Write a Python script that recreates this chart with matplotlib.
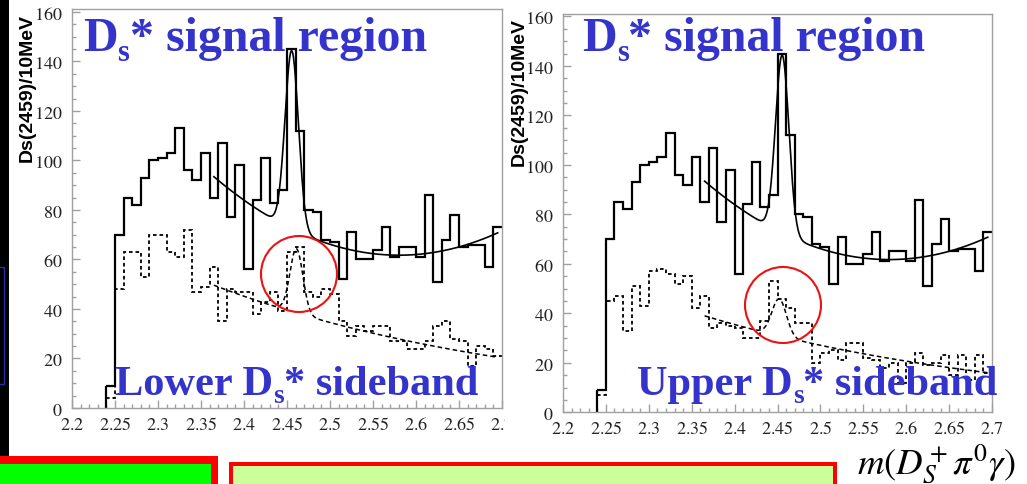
import matplotlib.pyplot as plt
import numpy as np
from matplotlib.patches import Rectangle, Ellipse
from matplotlib.transforms import Affine2D

# axis numbers are set in italic Times-like digits through mathtext
plt.rcParams['mathtext.fontset'] = 'stix'

# binning of the D_s(2459) candidate mass histograms (10 MeV bins)
bin_lo = 2.20
bin_w = 0.01

# entries per bin, 2.20 ... 2.69
signal = [0, 0, 0, 0,
          9, 70, 85, 82, 93, 100, 101, 103, 113, 96,
          92, 103, 85, 107, 77, 98, 56, 84, 101, 83,
          88, 145, 112, 80, 79, 68, 67, 52, 71, 60,
          60, 64, 73, 61, 65, 65, 61, 86, 51, 68,
          78, 65, 66, 66, 57, 73]
lower_sb = [0, 0, 0, 0,
            4, 48, 63, 63, 53, 70, 70, 63, 61, 72,
            47, 49, 57, 35, 48, 47, 47, 38, 43, 47,
            39, 63, 65, 47, 45, 48, 46, 35, 29, 33,
            31, 33, 33, 27, 27, 24, 24, 27, 33, 35,
            28, 27, 17, 25, 24, 21]
upper_sb = [0, 0, 0, 0,
            7, 45, 47, 33, 51, 43, 57, 58, 56, 52,
            55, 42, 47, 34, 36, 35, 34, 30, 30, 37,
            53, 46, 42, 36, 36, 20, 24, 25, 21, 28,
            28, 22, 21, 18, 20, 12, 20, 24, 19, 20,
            23, 15, 23, 13, 23, 16]

# fit results: gaussian + background, fitted over fit_range
fit_range = (2.365, 2.695)
sig_gaus = (72.0, 2.4555, 0.0078)          # amplitude, mean, sigma
sig_bkg = (62.0, 27.2, 685.0, 2.60)        # p0 + p1*(x-x0) + p2*(x-x0)^2
low_gaus = (26.0, 2.461, 0.0075)
low_bkg = (49.6, 2.68)                     # norm at fit start, slope
up_gaus = (15.0, 2.452, 0.0085)
up_bkg = (39.0, 2.70)

xticks = [2.2, 2.25, 2.3, 2.35, 2.4, 2.45, 2.5, 2.55, 2.6, 2.65, 2.7]
xtick_labels = ['2.2', '2.25', '2.3', '2.35', '2.4', '2.45', '2.5',
                '2.55', '2.6', '2.65', '2.7']
yticks = [0, 20, 40, 60, 80, 100, 120, 140, 160]

BLUE = '#3434cc'
W, H = 1027, 485
fig = plt.figure(figsize=(W / 100, H / 100), dpi=100)
pix = Affine2D().scale(1.0 / W, -1.0 / H).translate(0, 1) + fig.transFigure
renderer = fig.canvas.get_renderer()


def gaus(x, amp, mean, sigma):
    return amp * np.exp(-0.5 * ((x - mean) / sigma) ** 2)


def quad_bkg(x, p0, p1, p2, x0):
    return p0 + p1 * (x - x0) + p2 * (x - x0) ** 2


def exp_bkg(x, norm, slope):
    return norm * np.exp(-slope * (x - fit_range[0]))


def it(s):
    return r'$\mathit{' + s + '}$'


def make_axes(x0, x1, y0, y1, ytop, z):
    ax = fig.add_axes([x0 / W, 1 - y1 / H, (x1 - x0) / W, (y1 - y0) / H])
    ax.set_zorder(z)
    ax.set_xlim(2.2, 2.7)
    ax.set_ylim(0, ytop)
    ax.set_xticks(xticks, [it(s) for s in xtick_labels])
    ax.set_yticks(yticks, [it(str(v)) for v in yticks])
    ax.set_xticks(np.arange(2.2, 2.7001, 0.01), minor=True)
    ax.set_yticks(np.arange(0, 161, 5), minor=True)
    ax.tick_params(which='both', direction='in', color='#a0a0a0', width=1)
    ax.tick_params(which='major', length=6, labelcolor='#222222',
                   labelsize=13)
    ax.tick_params(which='minor', length=3)
    ax.tick_params(axis='x', pad=5)
    ax.tick_params(axis='y', pad=7)
    for sp in ax.spines.values():
        sp.set_color('#a0a0a0')
        sp.set_linewidth(1.0)
    return ax


def draw_panel(ax, side, side_gaus, side_bkg):
    edges = np.round(bin_lo + bin_w * np.arange(len(signal) + 1), 3)
    ax.stairs(signal[4:], edges[4:], baseline=None, color='black', lw=1.6)
    ax.vlines(edges[4], 0, signal[4], color='black', lw=1.6)
    ax.stairs(side[4:], edges[4:], baseline=None, color='black', lw=1.3,
              ls=(0, (2.0, 1.6)))
    ax.vlines(edges[4], 0, side[4], color='black', lw=1.3,
              ls=(0, (2.0, 1.6)))
    xf = np.linspace(fit_range[0], fit_range[1], 600)
    ax.plot(xf, gaus(xf, *sig_gaus) + quad_bkg(xf, *sig_bkg),
            color='black', lw=1.2)
    ax.plot(xf, gaus(xf, *side_gaus) + exp_bkg(xf, *side_bkg),
            color='black', lw=1.1, ls=(0, (3.0, 2.0)))


def blue_label(x, y, head, tail, size):
    # head + subscript "s" + tail, laid out piece by piece
    sub = size * 0.64
    drop = size * 100 / 72 * 0.2
    for s, fs, dy in [(head, size, 0), ('s', sub, drop), (tail, size, 0)]:
        t = fig.text(x, y + dy, s, transform=pix, color=BLUE,
                     fontfamily='Liberation Serif', fontweight='bold',
                     fontsize=fs, va='baseline', zorder=6)
        x += t.get_window_extent(renderer).width


axL = make_axes(72, 502, 10, 409, 161.2, 0)
draw_panel(axL, lower_sb, low_gaus, low_bkg)

# white backing of the second plot, it hides the end of the left axis labels
fig.add_artist(Rectangle((505, 0), 530, 440, transform=pix, fc='white',
                         ec='none', zorder=0.5))

axR = make_axes(563, 992, 15, 413.3, 161.0, 1)
draw_panel(axR, upper_sb, up_gaus, up_bkg)

# y axis titles
for x, y in [(27, 14), (519, 18)]:
    fig.text(x, y, 'Ds(2459)/10MeV', transform=pix, rotation=90,
             ha='center', va='top', fontfamily='Liberation Sans',
             fontweight='bold', fontsize=14, zorder=5)

blue_label(83, 51, 'D', '* signal region', 34.5)
blue_label(582, 51, 'D', '* signal region', 34.5)
blue_label(115, 395, 'Lower D', '* sideband', 30.5)
blue_label(637, 395, 'Upper D', '* sideband', 30.5)

# circles around the sideband bumps
for cx, cy in [(299, 275), (783, 306)]:
    fig.add_artist(Ellipse((cx, cy), 76, 76, transform=pix, fill=False,
                           ec='#ee1111', lw=1.5, zorder=7))

# slide decorations around the plots
fig.add_artist(Rectangle((0, 0), 8.5, 457, transform=pix, fc='black',
                         ec='none', zorder=2))
fig.add_artist(Rectangle((-6, 268), 9.5, 117, transform=pix, fill=False,
                         ec='#2c2ca8', lw=1, zorder=3))
fig.add_artist(Rectangle((-5, 457), 223, 40, transform=pix, fc='#ff0000',
                         ec='none', zorder=2))
fig.add_artist(Rectangle((-5, 465), 216, 40, transform=pix, fc='#00ff00',
                         ec='none', zorder=3))
fig.add_artist(Rectangle((229, 463), 608, 40, transform=pix, fc='#ff0000',
                         ec='none', zorder=2))
fig.add_artist(Rectangle((233, 467), 600, 40, transform=pix, fc='#ccff99',
                         ec='none', zorder=3))

fig.text(857, 474, r'$m(D_S^+\pi^0\gamma)$', transform=pix, fontsize=26.5,
         va='baseline', zorder=6)

fig.savefig('out.png', dpi=100)
